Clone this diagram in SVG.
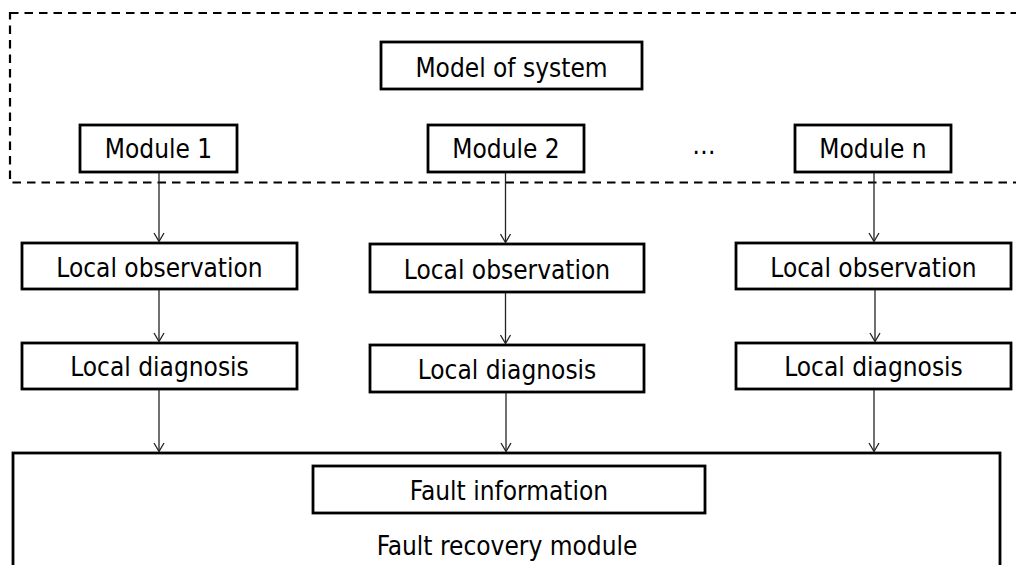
<svg xmlns="http://www.w3.org/2000/svg" width="1016" height="565" viewBox="0 0 1016 565">
<style>
.box{fill:#fff;stroke:#000;stroke-width:2.8}
.t{font-family:"DejaVu Sans Condensed","DejaVu Sans","Liberation Sans",sans-serif;font-stretch:condensed;font-size:26px;fill:#000;text-anchor:middle}
.c{fill:none;stroke:#222;stroke-width:1.3}
</style>
<defs>
<marker id="ah" markerUnits="userSpaceOnUse" viewBox="-10 -6 12 12" refX="0" refY="0" markerWidth="12" markerHeight="12" orient="auto">
<path d="M-8.5,-5 L0,0 L-8.5,5" fill="none" stroke="#222" stroke-width="1.3"/>
</marker>
</defs>
<rect width="1016" height="565" fill="#fff"/>
<g id="system-frame">
<rect x="10" y="13" width="1030" height="169.5" fill="none" stroke="#000" stroke-width="2.2" stroke-dasharray="8.5,6"/>
</g>
<g id="fault-recovery">
<rect class="box" x="13" y="453" width="987" height="130"/>
<text class="t" x="507" y="555">Fault recovery module</text>
</g>
<g id="fault-info">
<rect class="box" x="313" y="466" width="392" height="47"/>
<text class="t" x="509" y="500">Fault information</text>
</g>
<g id="model">
<rect class="box" x="381" y="42" width="261" height="47"/>
<text class="t" x="511.5" y="77">Model of system</text>
</g>
<g id="module1">
<rect class="box" x="80" y="125" width="157" height="47"/>
<text class="t" x="158.5" y="158">Module 1</text>
</g>
<g id="module2">
<rect class="box" x="428" y="125" width="156" height="47"/>
<text class="t" x="506" y="158">Module 2</text>
</g>
<g id="ellipsis">
<text class="t" x="704" y="154">…</text>
</g>
<g id="modulen">
<rect class="box" x="795" y="125" width="156" height="47"/>
<text class="t" x="873" y="158">Module n</text>
</g>
<g id="obs1">
<rect class="box" x="22" y="243" width="275" height="46"/>
<text class="t" x="159.5" y="277">Local observation</text>
</g>
<g id="diag1">
<rect class="box" x="22" y="343" width="275" height="46"/>
<text class="t" x="159.5" y="376">Local diagnosis</text>
</g>
<g id="obs2">
<rect class="box" x="370" y="244" width="274" height="48"/>
<text class="t" x="507" y="279">Local observation</text>
</g>
<g id="diag2">
<rect class="box" x="370" y="345" width="274" height="47"/>
<text class="t" x="507" y="379">Local diagnosis</text>
</g>
<g id="obs3">
<rect class="box" x="736" y="243" width="275" height="46"/>
<text class="t" x="873.5" y="277">Local observation</text>
</g>
<g id="diag3">
<rect class="box" x="736" y="343" width="275" height="46"/>
<text class="t" x="873.5" y="376">Local diagnosis</text>
</g>
<g id="connectors">
<line class="c" x1="159" y1="173" x2="159" y2="241.5" marker-end="url(#ah)"/>
<line class="c" x1="159" y1="290" x2="159" y2="341.5" marker-end="url(#ah)"/>
<line class="c" x1="159" y1="390" x2="159" y2="451.5" marker-end="url(#ah)"/>
<line class="c" x1="505.5" y1="173" x2="505.5" y2="242.5" marker-end="url(#ah)"/>
<line class="c" x1="505.5" y1="293" x2="505.5" y2="343.5" marker-end="url(#ah)"/>
<line class="c" x1="506" y1="393" x2="506" y2="451.5" marker-end="url(#ah)"/>
<line class="c" x1="874" y1="173" x2="874" y2="241.5" marker-end="url(#ah)"/>
<line class="c" x1="875" y1="290" x2="875" y2="341.5" marker-end="url(#ah)"/>
<line class="c" x1="874" y1="390" x2="874" y2="451.5" marker-end="url(#ah)"/>
</g>
</svg>
